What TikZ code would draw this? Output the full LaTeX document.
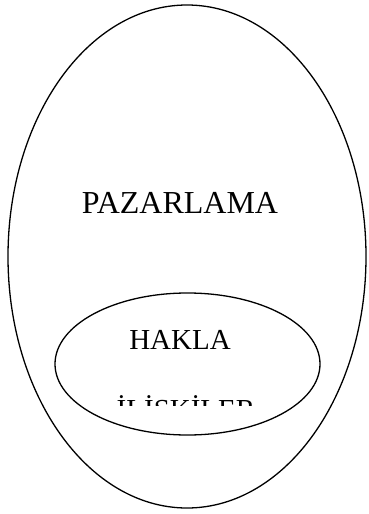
\documentclass[tikz,border=0pt]{standalone}
\usepackage{fontspec}
\setmainfont{Liberation Serif}
\begin{document}
\begin{tikzpicture}[x=1pt,y=-1pt,
  oval/.style={draw=black,line width=1.3pt},
  lbl/.style={font=\fontsize{29}{35}\selectfont,inner sep=0pt,anchor=base},
  biglbl/.style={font=\fontsize{32}{38}\selectfont,inner sep=0pt,anchor=base}]
\useasboundingbox (0,0) rectangle (369,514);
\draw[oval] (187,256.5) ellipse [x radius=179, y radius=251.5];
\node[biglbl] (paz) at (180,213.3) {PAZARLAMA};
\draw[oval] (187.5,364) ellipse [x radius=132.5, y radius=71];
\node[lbl] (hak) at (180,349.5) {HAKLA};
\begin{scope}
  \clip (0,0) rectangle (369,405);
  \node[lbl] (ili) at (186,419) {İLİŞKİLER};
\end{scope}
\end{tikzpicture}
\end{document}
